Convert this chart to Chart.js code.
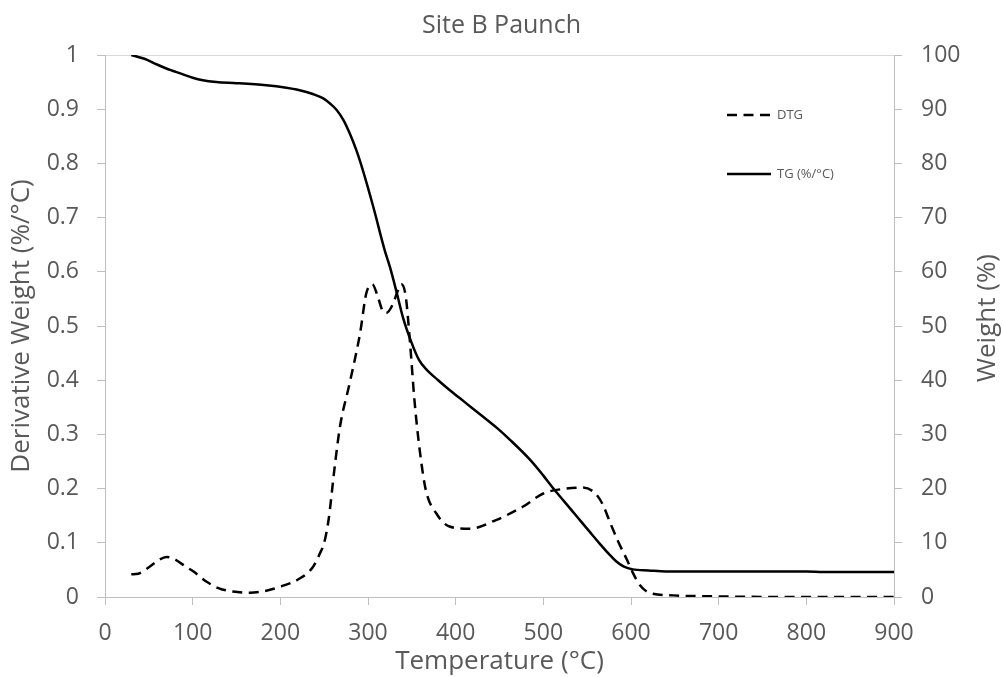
<!DOCTYPE html>
<html>
<head>
<meta charset="utf-8">
<title>Site B Paunch</title>
<script src="https://cdn.jsdelivr.net/npm/chart.js@4.4.1/dist/chart.umd.min.js"></script>
<style>
    body { margin: 0; background: #ffffff; }
    #wrap { width: 1003px; height: 677px; }
</style>
</head>
<body>
<div id="wrap"><canvas id="tgaChart" width="1003" height="677"></canvas></div>
<script>
// DTG curve (derivative weight, %/°C) against temperature
const dtgTemp = [30, 38, 50, 62, 70, 80, 92, 101, 116, 130, 146, 165, 185, 200, 222, 237, 245, 250, 255, 262, 268, 279, 291, 298, 305, 311, 317, 321, 328, 334, 338, 343, 348, 353, 359, 366, 378, 393, 416, 446, 477, 500, 526, 545, 560, 568, 576, 586, 595, 602, 610, 618, 625, 648, 700, 800, 900];
const dtgValue = [0.042, 0.043, 0.055, 0.069, 0.074, 0.069, 0.056, 0.047, 0.028, 0.016, 0.010, 0.008, 0.012, 0.019, 0.034, 0.055, 0.080, 0.100, 0.142, 0.240, 0.314, 0.394, 0.487, 0.560, 0.577, 0.555, 0.527, 0.524, 0.539, 0.565, 0.577, 0.555, 0.468, 0.363, 0.271, 0.197, 0.154, 0.130, 0.126, 0.142, 0.167, 0.191, 0.200, 0.202, 0.190, 0.170, 0.138, 0.100, 0.070, 0.045, 0.022, 0.010, 0.006, 0.003, 0.001, 0.000, 0.000];

// TG curve (weight, %) against temperature
const tgTemp = [30, 45, 60, 75, 86, 100, 110, 127, 150, 184, 205, 222, 237, 249, 257, 264, 272, 279, 287, 294, 306, 319, 325, 333, 340, 350, 358, 367, 380, 393, 410, 431, 447, 462, 485, 500, 511, 524, 538, 552, 564, 575, 583, 592, 602, 620, 640, 700, 800, 820, 900];
const tgWeight = [100, 99.3, 98.2, 97.2, 96.6, 95.8, 95.4, 95.0, 94.8, 94.4, 94.0, 93.5, 92.8, 92.0, 91.0, 89.9, 88.0, 85.6, 82.3, 78.8, 72.0, 64.0, 60.9, 56.0, 51.5, 46.8, 43.8, 41.9, 40.0, 38.2, 36.0, 33.3, 31.2, 29.0, 25.3, 22.4, 20.1, 17.6, 14.9, 12.2, 9.9, 7.9, 6.6, 5.6, 5.1, 4.9, 4.7, 4.7, 4.7, 4.6, 4.6];

// Axis tick labels
const tempTicks = [0, 100, 200, 300, 400, 500, 600, 700, 800, 900];
const dtgTicks = ['0', '0.1', '0.2', '0.3', '0.4', '0.5', '0.6', '0.7', '0.8', '0.9', '1'];
const weightTicks = ['0', '10', '20', '30', '40', '50', '60', '70', '80', '90', '100'];

const FONT = "'Open Sans', 'Liberation Sans', sans-serif";
const TEXT = '#595959';
const AXIS = '#bfbfbf';

function toPoints(xs, ys) {
    return xs.map((x, i) => ({ x: x, y: ys[i] }));
}

// Legend drawn inside the plot area, top right
const insideLegend = {
    id: 'insideLegend',
    afterDraw(chart) {
        const ctx = chart.ctx;
        const rows = [115, 174];
        ctx.save();
        chart.data.datasets.forEach((ds, i) => {
            const y = rows[i];
            ctx.beginPath();
            ctx.setLineDash(ds.borderDash || []);
            ctx.strokeStyle = ds.borderColor;
            ctx.lineWidth = ds.borderWidth;
            ctx.moveTo(727, y);
            ctx.lineTo(771, y);
            ctx.stroke();
            ctx.setLineDash([]);
            ctx.fillStyle = TEXT;
            ctx.font = '13px ' + FONT;
            ctx.textAlign = 'left';
            ctx.textBaseline = 'middle';
            ctx.fillText(ds.label, 777, y);
        });
        ctx.restore();
    }
};

// Right axis title, reading bottom to top like the left one
const rightTitle = {
    id: 'rightTitle',
    afterDraw(chart, args, opts) {
        const scale = chart.scales.y1;
        const area = chart.chartArea;
        const ctx = chart.ctx;
        ctx.save();
        ctx.translate(scale.right - 15, (area.top + area.bottom) / 2 - 8);
        ctx.rotate(-Math.PI / 2);
        ctx.fillStyle = TEXT;
        ctx.font = '26px ' + FONT;
        ctx.textAlign = 'center';
        ctx.textBaseline = 'middle';
        ctx.fillText(opts.text, 0, 0);
        ctx.restore();
    }
};

const ctx = document.getElementById('tgaChart').getContext('2d');

new Chart(ctx, {
    type: 'line',
    data: {
        datasets: [{
            label: 'DTG',
            data: toPoints(dtgTemp, dtgValue),
            yAxisID: 'y',
            borderColor: '#000000',
            borderWidth: 2.5,
            borderDash: [10, 6.5],
            pointRadius: 0,
            cubicInterpolationMode: 'monotone',
            fill: false
        }, {
            label: 'TG (%/°C)',
            data: toPoints(tgTemp, tgWeight),
            yAxisID: 'y1',
            borderColor: '#000000',
            borderWidth: 2.5,
            pointRadius: 0,
            cubicInterpolationMode: 'monotone',
            fill: false
        }]
    },
    options: {
        responsive: false,
        animation: false,
        layout: { padding: 0 },
        plugins: {
            legend: { display: false },
            tooltip: { enabled: false },
            rightTitle: { text: 'Weight (%)' },
            title: {
                display: true,
                text: 'Site B Paunch',
                color: TEXT,
                font: { family: FONT, size: 25, weight: 'normal' },
                padding: { top: 11, bottom: 14 }
            }
        },
        scales: {
            x: {
                type: 'linear',
                min: 0,
                max: 900,
                afterBuildTicks: scale => {
                    scale.ticks = tempTicks.map(v => ({ value: v }));
                },
                afterFit: scale => { scale.height = 80; },
                border: { color: AXIS, width: 1 },
                grid: { drawOnChartArea: false, tickLength: 8, tickColor: AXIS },
                ticks: {
                    color: TEXT,
                    padding: 15,
                    maxRotation: 0,
                    font: { family: FONT, size: 23 },
                    callback: value => String(value)
                },
                title: {
                    display: true,
                    text: 'Temperature (°C)',
                    color: TEXT,
                    font: { family: FONT, size: 26 },
                    padding: { top: 1, bottom: 0 }
                }
            },
            y: {
                position: 'left',
                min: 0,
                max: 1,
                afterBuildTicks: scale => {
                    scale.ticks = dtgTicks.map((t, i) => ({ value: i / 10 }));
                },
                afterFit: scale => { scale.width = 105; },
                border: { color: AXIS, width: 1 },
                grid: {
                    drawOnChartArea: true,
                    color: c => (c.tick && c.tick.value === 1 ? '#d9d9d9' : 'rgba(0,0,0,0)'),
                    tickLength: 8,
                    tickColor: AXIS
                },
                ticks: {
                    color: TEXT,
                    padding: 18,
                    font: { family: FONT, size: 23 },
                    callback: (value, index) => dtgTicks[index]
                },
                title: {
                    display: true,
                    text: 'Derivative Weight (%/°C)',
                    color: TEXT,
                    font: { family: FONT, size: 26 },
                    padding: { top: 6, bottom: 0 }
                }
            },
            y1: {
                position: 'right',
                min: 0,
                max: 100,
                afterBuildTicks: scale => {
                    scale.ticks = weightTicks.map((t, i) => ({ value: i * 10 }));
                },
                afterFit: scale => { scale.width = 109; },
                border: { color: AXIS, width: 1 },
                grid: { drawOnChartArea: false, tickLength: 8, tickColor: AXIS },
                ticks: {
                    color: TEXT,
                    padding: 19,
                    font: { family: FONT, size: 23 },
                    callback: (value, index) => weightTicks[index]
                },
                title: { display: false }
            }
        }
    },
    plugins: [insideLegend, rightTitle]
});
</script>
</body>
</html>
